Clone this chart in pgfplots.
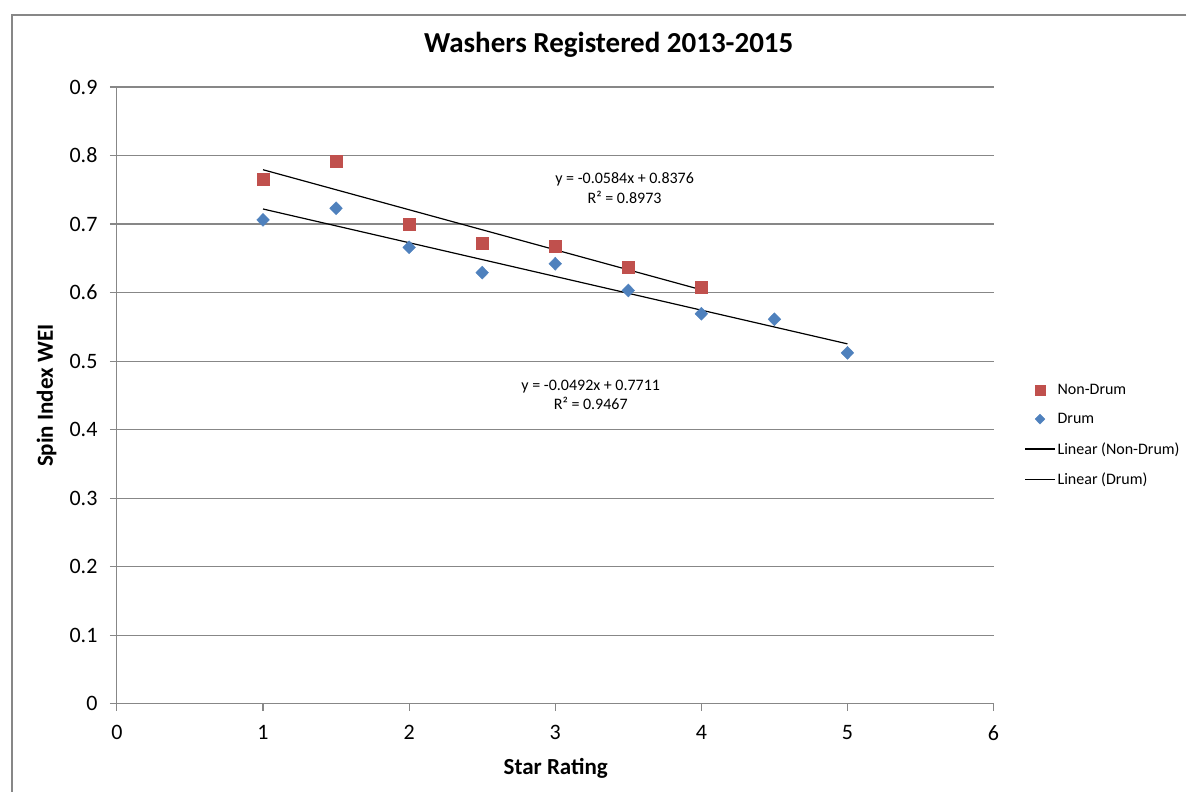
\documentclass[border=0pt]{standalone}
\usepackage{fontspec}
\setmainfont{Carlito}
\usepackage{pgfplots}
\pgfplotsset{compat=1.18}
\definecolor{ndred}{HTML}{C0504D}
\definecolor{drblue}{HTML}{4F81BD}
\definecolor{gridgray}{HTML}{878787}
\pgfplotsset{
  legmark/.style={legend image code/.code={\draw[##1, mark size=5pt] plot coordinates {(15pt,0pt)};}},
  legline/.style={legend image code/.code={\draw[##1] (0pt,0pt) -- (30pt,0pt);}},
}
\begin{document}
\begin{tikzpicture}[x=1pt,y=1pt]
\path (0,0) rectangle (1187,792);
\draw[gridgray, line width=1.1pt] (1187,777) -- (12,777) -- (12,0);
\begin{axis}[
  at={(117pt,88pt)}, anchor=south west,
  scale only axis, width=877pt, height=617pt,
  xmin=0, xmax=6, ymin=0, ymax=0.9,
  xtick={0,1,2,3,4,5,6},
  ytick={0,0.1,0.2,0.3,0.4,0.5,0.6,0.7,0.8,0.9},
  axis x line*=bottom, axis y line*=left,
  axis line style={gridgray, line width=1.1pt, -},
  ymajorgrids, grid style={gridgray, line width=1.1pt},
  tick style={gridgray, line width=1.1pt},
  tick align=outside, major tick length=7pt,
  ticklabel style={font=\fontsize{22}{26}\selectfont},
  /pgf/number format/assume math mode=true,
  yticklabel style={/pgf/number format/fixed, /pgf/number format/precision=1, xshift=-9pt},
  xticklabel style={yshift=-11pt},
  clip=false,
  legend style={draw=none, fill=none, at={(1.035,0.522)}, anchor=north west,
    font=\fontsize{16}{19}\selectfont, row sep=13.5pt, inner sep=0pt},
  legend cell align=left,
]
\addplot[only marks, mark=square*, mark size=6pt, color=ndred, legmark]
  coordinates {(1,0.766)(1.5,0.791)(2,0.699)(2.5,0.672)(3,0.668)(3.5,0.637)(4,0.608)};
\addlegendentry{Non-Drum}
\addplot[only marks, mark=diamond*, mark size=6.5pt, color=drblue, mark options={xscale=1.3}, legmark]
  coordinates {(1,0.706)(1.5,0.723)(2,0.666)(2.5,0.629)(3,0.642)(3.5,0.603)(4,0.569)(4.5,0.561)(5,0.512)};
\addlegendentry{Drum}
\addplot[black, line width=1.2pt, no marks, legline]
  coordinates {(1,0.7792)(4,0.6040)};
\addlegendentry{Linear (Non-Drum)}
\addplot[black, line width=1.2pt, no marks, legline]
  coordinates {(1,0.7219)(5,0.5251)};
\addlegendentry{Linear (Drum)}
\node[align=center, font=\fontsize{16}{19.5}\selectfont] at (axis cs:3.475,0.7526) {y = -0.0584x + 0.8376\\R² = 0.8973};
\node[align=center, font=\fontsize{16}{19.5}\selectfont] at (axis cs:3.243,0.451) {y = -0.0492x + 0.7711\\R² = 0.9467};
\end{axis}
\node[anchor=base, font=\bfseries\fontsize{29}{34}\selectfont] at (609,739) {Washers Registered 2013-2015};
\node[anchor=base, font=\bfseries\fontsize{23}{27}\selectfont] at (556,17) {Star Rating};
\node[anchor=base, rotate=90, font=\bfseries\fontsize{23}{27}\selectfont] at (53,396) {Spin Index WEI};
\end{tikzpicture}
\end{document}
